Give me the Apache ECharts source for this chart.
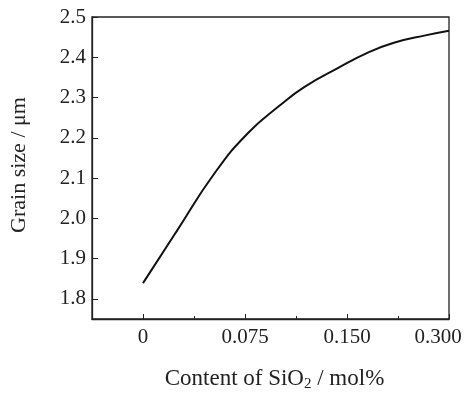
<!DOCTYPE html>
<html>
<head>
<meta charset="utf-8">
<script src="https://cdn.jsdelivr.net/npm/echarts@6/dist/echarts.min.js"></script>
<style>
  html, body { margin: 0; padding: 0; background: #fff; }
  #main { width: 469px; height: 397px; }
</style>
</head>
<body>
<div id="main"></div>
<script>
// x positions are on the evenly spaced tick scale (0, 1, 2, 3 -> tick labels)
const xTickLabels = ['0', '0.075', '0.150', '0.300']
const xPos = [0, 0.32, 0.71, 1.03, 1.34, 1.58, 1.91, 2.21, 2.46, 2.78, 3]
const grainSize = [1.839, 1.964, 2.115, 2.212, 2.28, 2.326, 2.373, 2.412, 2.436, 2.455, 2.466]
const yTicks = [1.8, 1.9, 2.0, 2.1, 2.2, 2.3, 2.4, 2.5]

const myChart = echarts.init(document.getElementById('main'))
const font = 'Liberation Serif'
const ink = '#222'

const option = {
  backgroundColor: '#fff',
  animation: false,
  grid: {
    left: 90,
    right: 20,
    top: 17,
    bottom: 68,
    show: true,
    borderColor: ink,
    borderWidth: 1.3
  },
  xAxis: [
    {
      type: 'value',
      min: -0.5,
      max: 3,
      position: 'bottom',
      name: 'Content of SiO{sub|2} / mol%',
      nameLocation: 'middle',
      nameGap: 46,
      nameTextStyle: {
        fontFamily: font,
        fontSize: 23,
        color: ink,
        padding: [0, 0, 0, 8],
        rich: {
          sub: { fontFamily: font, fontSize: 15, color: ink, padding: [12, 0, 0, 0] }
        }
      },
      axisLine: { show: true, onZero: false, lineStyle: { color: ink, width: 1.3 } },
      axisTick: {
        show: true,
        inside: true,
        length: 5,
        customValues: [0, 1, 2, 3],
        lineStyle: { color: ink, width: 1 }
      },
      axisLabel: {
        customValues: [0, 1, 2, 3],
        margin: 8,
        fontFamily: font,
        fontSize: 21,
        color: ink,
        formatter: function (v) {
          const i = Math.round(v)
          if (i === 3) return '{last|' + xTickLabels[i] + '}'
          return xTickLabels[i]
        },
        rich: {
          last: { fontFamily: font, fontSize: 21, color: ink, padding: [0, 22, 0, 0] }
        }
      },
      splitLine: { show: false }
    },
    {
      // minor ticks between labelled ticks
      type: 'value',
      min: -0.5,
      max: 3,
      position: 'bottom',
      axisLine: { show: false, onZero: false },
      axisTick: {
        show: true,
        inside: true,
        length: 3,
        customValues: [0.5, 1.5, 2.5],
        lineStyle: { color: ink, width: 1 }
      },
      axisLabel: { show: false },
      splitLine: { show: false }
    }
  ],
  yAxis: {
    type: 'value',
    min: 1.75,
    max: 2.5,
    name: 'Grain size / μm',
    nameLocation: 'middle',
    nameGap: 62,
    nameTextStyle: {
      fontFamily: font,
      fontSize: 22,
      color: ink,
      padding: [0, 0, 0, 6]
    },
    axisLine: { show: true, onZero: false, lineStyle: { color: ink, width: 1.3 } },
    axisTick: {
      show: true,
      inside: true,
      length: 6,
      customValues: yTicks,
      lineStyle: { color: ink, width: 1 }
    },
    axisLabel: {
      customValues: yTicks,
      margin: 6,
      fontFamily: font,
      fontSize: 21,
      color: ink,
      formatter: function (v) { return v.toFixed(1) }
    },
    splitLine: { show: false }
  },
  series: [
    {
      type: 'line',
      xAxisIndex: 0,
      smooth: 0.5,
      symbol: 'none',
      lineStyle: { color: '#111', width: 2 },
      data: xPos.map((x, i) => [x, grainSize[i]])
    }
  ]
}
myChart.setOption(option)
window.addEventListener('resize', function () {
  myChart.resize()
})
</script>
</body>
</html>
